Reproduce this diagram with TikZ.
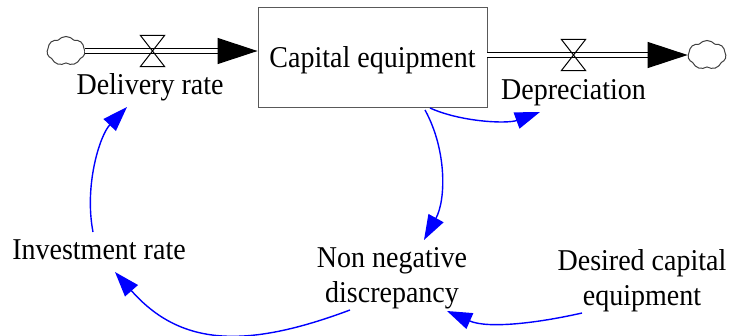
\documentclass[tikz,border=0pt]{standalone}
\usepackage{fontspec}
\setmainfont{Liberation Serif}
\usetikzlibrary{arrows.meta,shapes.symbols}
\definecolor{linkblue}{RGB}{0,0,255}
\newcommand{\vs}[1]{\scalebox{1}[1.08]{#1}}
\begin{document}
\begin{tikzpicture}[x=1pt,y=-1pt,
  lbl/.style={font=\fontsize{28}{35}\selectfont, inner sep=0pt, align=center},
  stock/.style={draw=black!65, line width=0.9pt, minimum width=229pt, minimum height=100pt, inner sep=0pt, font=\fontsize{28}{35}\selectfont, text height=20pt, text depth=0pt},
  source/.style={cloud, cloud puffs=7, cloud puff arc=100, aspect=1.3, minimum width=38pt, minimum height=29pt, inner sep=0pt, draw=black!75, fill=white, line width=1pt},
  valvebox/.style={minimum width=24pt, minimum height=31pt, inner sep=0pt},
  valveline/.style={draw=black, line width=1pt, line join=miter},
  pipe/.style={draw=black, double=white, double distance=3.8pt, line width=1.2pt, -{Triangle[length=40pt,width=26pt]}},
  link/.style={draw=linkblue, line width=1.4pt, -{Triangle[length=25pt,width=17pt]}}
]
\useasboundingbox (0,0) rectangle (731,335);
\fill[white] (0,0) rectangle (731,335);

% stock and sources/sinks
\node[stock] (cap) at (372.5,57) {\vs{Capital equipment}};
\node[source] (cloudL) at (66,51) {};
\node[source] (cloudR) at (707,55) {};

% flows
\draw[pipe] (cloudL.east) -- (cloudL.east -| cap.west);
\draw[pipe] (cap.east |- cloudR.west) -- (cloudR.west);

% valves
\node[valvebox] (v1) at (152.5,51) {};
\node[valvebox] (v2) at (573.5,55) {};
\draw[valveline] (v1.north west) -- (v1.north east) -- (v1.south west) -- (v1.south east) -- cycle;
\draw[valveline] (v2.north west) -- (v2.north east) -- (v2.south west) -- (v2.south east) -- cycle;

% labels
\node[lbl, anchor=base] (del) at (150,94) {\vs{Delivery rate}};
\node[lbl, anchor=base] (dep) at (573.5,99) {\vs{Depreciation}};
\node[lbl, anchor=base] (inv) at (99,259) {\vs{Investment rate}};
\node[lbl, anchor=base] (nnd) at (392,302) {\vs{Non negative}\\\vs{discrepancy}};
\node[lbl, anchor=base] (dce) at (642,305) {\vs{Desired capital}\\\vs{equipment}};

% link end points
\coordinate (invOut) at (93,232);
\coordinate (delIn) at (127,107);
\coordinate (nndOut) at (350,310);
\coordinate (invIn) at (115,272);
\coordinate (capOutA) at (425,110);
\coordinate (nndIn) at (424,240);
\coordinate (capOutB) at (430,108);
\coordinate (depIn) at (540,112);
\coordinate (dceOut) at (582,313);
\coordinate (nndIn2) at (447,311);

% links
\draw[link] (invOut) .. controls (84,185) and (100,135) .. (delIn);
\draw[link] (nndOut) .. controls (247,348.5) and (181,347) .. (invIn);
\draw[link] (capOutA) .. controls (447,150) and (446,200) .. (nndIn);
\draw[link] (capOutB) .. controls (461,122) and (507,124) .. (depIn);
\draw[link] (dceOut) .. controls (538,323) and (488,329) .. (nndIn2);
\end{tikzpicture}
\end{document}
